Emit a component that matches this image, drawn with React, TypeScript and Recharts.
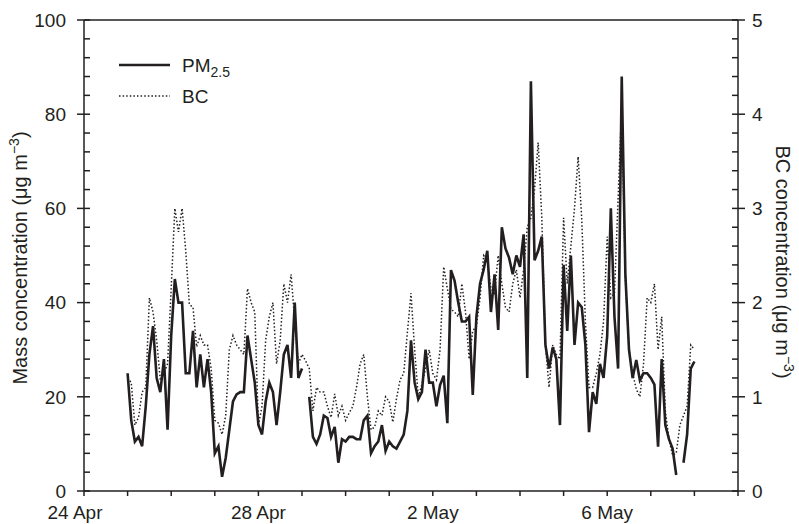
import React from 'react';
import { ComposedChart, Line, XAxis, YAxis, ReferenceLine } from 'recharts';

// Time axis: days after 24 Apr 00:00; observations every 2 hours starting 25 Apr 00:00
const FIRST_DAY = 1;
const STEP_HOURS = 2;

// PM2.5 mass concentration (μg m-3), 2-hourly, one array per day
const pmApr25 = [25, 15, 10.5, 11.5, 9.5, 18, 29, 35, 24, 21, 28, 13];
const pmApr26 = [33, 45, 40, 40, 25, 25, 34, 22, 29, 22, 28, 21];
const pmApr27 = [8, 9.5, 3, 7, 13, 19, 20.5, 21, 21, 33, 28, 23];
const pmApr28 = [14, 12, 19, 23, 21, 14, 21, 29, 31, 24, 40, 24];
const pmApr29 = [26, null, 20, 11.5, 10, 12, 16, 15.5, 11.5, 13.6, 6, 11];
const pmApr30 = [10.5, 11.5, 11.5, 11, 11, 15, 16, 8, 9.5, 10.5, 14, 8.5];
const pmMay01 = [10.5, 9.5, 9, 10.5, 12, 17, 32, 23, 19.5, 21, 30, 23];
const pmMay02 = [23, 18, 22.5, 24.5, 14.4, 46.9, 44.6, 40, 36, 36, 37, 20.4];
const pmMay03 = [37, 44, 47, 51, 38, 46, 34.2, 56, 51.5, 49.5, 46, 50];
const pmMay04 = [47.6, 54.5, 24, 87, 49, 51, 54, 31, 26, 30.5, 28, 14];
const pmMay05 = [48, 34, 50, 31, 40, 39, 31, 12.5, 21, 18.5, 27, 24];
const pmMay06 = [33, 60, 37, 26, 88, 46, 30, 24, 27.8, 23.5, 25, 25];
const pmMay07 = [24, 22.6, 9.4, 28, 14, 11, 9, 3.4, null, 6, 12, 26];
const pmMay08 = [27.5];

// BC concentration (μg m-3), 2-hourly, one array per day
const bcApr25 = [1.2, 1.15, 0.7, 0.78, 1.05, 1.1, 2.05, 1.9, 1.6, 1.18, 1.25, 1.35];
const bcApr26 = [2.15, 3.0, 2.75, 3.0, 2.55, 1.98, 1.95, 1.53, 1.65, 1.55, 1.55, 1.3];
const bcApr27 = [0.75, 0.72, 0.6, 0.8, 1.5, 1.65, 1.55, 1.5, 1.45, 2.15, 2.0, 1.9];
const bcApr28 = [0.7, 0.9, 1.6, 1.85, 2.0, 1.35, 1.6, 2.2, 2.0, 2.3, 1.8, 1.35];
const bcApr29 = [1.45, 1.38, 1.3, 0.85, 1.1, 1.05, 1.05, 0.9, 0.78, 1.03, 0.8, 0.9];
const bcApr30 = [0.75, 0.83, 0.9, 1.1, 1.35, 1.45, 1.0, 0.65, 0.68, 0.85, 0.8, 1.0];
const bcMay01 = [0.95, 0.73, 0.98, 1.18, 1.25, 1.68, 2.1, 1.5, 1.0, 1.13, 1.3, 1.5];
const bcMay02 = [1.25, 1.18, 1.5, 2.38, 2.15, 1.93, 1.9, 1.85, 2.2, 1.9, 1.4, 1.7];
const bcMay03 = [1.75, 2.05, 2.5, 2.45, 2.15, 2.1, 2.5, 2.2, 1.95, 1.9, 2.2, 2.35];
const bcMay04 = [2.05, 2.35, 2.8, 2.9, 3.2, 3.7, 2.9, 1.55, 1.1, 1.55, 1.45, 1.4];
const bcMay05 = [2.9, 2.2, 2.6, 3.0, 3.55, 2.88, 1.8, 1.1, 1.1, 1.25, 1.45, 1.8];
const bcMay06 = [2.7, 2.05, 2.1, 3.1, 4.1, 2.25, 1.5, 1.25, 1.08, 1.0, 1.35, 2.05];
const bcMay07 = [2.0, 2.2, 1.5, 1.85, 0.85, 0.55, 0.38, 0.4, 0.7, 0.8, 0.9, 1.55];
const bcMay08 = [1.5];

// Axis ticks and labels
const xTicks = [0, 1, 2, 3, 4, 5, 6, 7, 8, 9, 10, 11, 12, 13, 14, 15];
const xTickLabels = ['24 Apr', '', '', '', '28 Apr', '', '', '', '2 May', '', '', '', '6 May', '', '', ''];
const leftTicks = [0, 4, 8, 12, 16, 20, 24, 28, 32, 36, 40, 44, 48, 52, 56, 60, 64, 68, 72, 76, 80, 84, 88, 92, 96, 100];
const rightTicks = [0, 0.2, 0.4, 0.6, 0.8, 1, 1.2, 1.4, 1.6, 1.8, 2, 2.2, 2.4, 2.6, 2.8, 3, 3.2, 3.4, 3.6, 3.8, 4, 4.2, 4.4, 4.6, 4.8, 5];

const pmSeries = [
  ...pmApr25, ...pmApr26, ...pmApr27, ...pmApr28, ...pmApr29, ...pmApr30, ...pmMay01,
  ...pmMay02, ...pmMay03, ...pmMay04, ...pmMay05, ...pmMay06, ...pmMay07, ...pmMay08,
];
const bcSeries = [
  ...bcApr25, ...bcApr26, ...bcApr27, ...bcApr28, ...bcApr29, ...bcApr30, ...bcMay01,
  ...bcMay02, ...bcMay03, ...bcMay04, ...bcMay05, ...bcMay06, ...bcMay07, ...bcMay08,
];

const data = pmSeries.map((pm, i) => ({
  t: FIRST_DAY + (i * STEP_HOURS) / 24,
  pm,
  bc: bcSeries[i],
}));

const INK = '#231f20';
const FONT = '"Liberation Sans", Arial, Helvetica, sans-serif';
const FS = 19;
const TITLE_FS = 20;
const DOTS = '1.5 2.1';

const XTick = (props: any) => {
  const { x, y, payload } = props;
  const idx = Math.round(payload.value);
  const label = xTickLabels[idx];
  return (
    <g>
      <line x1={x} x2={x} y1={y} y2={y + 5} stroke={INK} strokeWidth={1.5} />
      {label ? (
        <text
          x={x}
          y={y + 15}
          dx={idx === 0 ? -9 : 0}
          dy="0.71em"
          textAnchor="middle"
          fontSize={FS}
          fontFamily={FONT}
          fill={INK}
        >
          {label}
        </text>
      ) : null}
    </g>
  );
};

const LeftTick = (props: any) => {
  const { x, y, payload } = props;
  const v = payload.value;
  const major = Math.abs(v % 20) < 1e-6;
  return (
    <g>
      <line x1={major ? x - 7 : x} x2={x + 6} y1={y} y2={y} stroke={INK} strokeWidth={1.5} />
      {major ? (
        <text x={x - 18} y={y} dy="0.36em" textAnchor="end" fontSize={FS} fontFamily={FONT} fill={INK}>
          {v}
        </text>
      ) : null}
    </g>
  );
};

const RightTick = (props: any) => {
  const { x, y, payload } = props;
  const v = payload.value;
  const major = Math.abs(v - Math.round(v)) < 1e-6;
  return (
    <g>
      <line x1={x - 6} x2={major ? x + 7 : x} y1={y} y2={y} stroke={INK} strokeWidth={1.5} />
      {major ? (
        <text x={x + 14} y={y} dy="0.36em" textAnchor="start" fontSize={FS} fontFamily={FONT} fill={INK}>
          {v}
        </text>
      ) : null}
    </g>
  );
};

export default function App() {
  return (
    <div style={{ position: 'absolute', left: 0, top: 0, width: 799, height: 524, background: '#fff' }}>
      <ComposedChart
        width={799}
        height={524}
        data={data}
        margin={{ top: 20, right: 0, bottom: 0, left: 0 }}
      >
        <XAxis
          dataKey="t"
          type="number"
          domain={[0, 15]}
          ticks={xTicks}
          interval={0}
          allowDataOverflow
          height={33}
          tickSize={0}
          tickMargin={0}
          tickLine={false}
          tick={XTick}
          axisLine={{ stroke: INK, strokeWidth: 1.5 }}
        />
        <YAxis
          yAxisId="left"
          orientation="left"
          domain={[0, 100]}
          ticks={leftTicks}
          interval={0}
          width={84}
          tickSize={0}
          tickMargin={0}
          tickLine={false}
          tick={LeftTick}
          axisLine={{ stroke: INK, strokeWidth: 1.5 }}
        />
        <YAxis
          yAxisId="right"
          orientation="right"
          domain={[0, 5]}
          ticks={rightTicks}
          interval={0}
          width={61}
          tickSize={0}
          tickMargin={0}
          tickLine={false}
          tick={RightTick}
          axisLine={{ stroke: INK, strokeWidth: 1.5 }}
        />
        <ReferenceLine yAxisId="left" y={100} stroke={INK} strokeWidth={1.5} ifOverflow="visible" />
        <Line
          yAxisId="right"
          dataKey="bc"
          type="linear"
          stroke={INK}
          strokeWidth={1.5}
          strokeDasharray={DOTS}
          dot={false}
          activeDot={false}
          isAnimationActive={false}
        />
        <Line
          yAxisId="left"
          dataKey="pm"
          type="linear"
          stroke={INK}
          strokeWidth={2.6}
          dot={false}
          activeDot={false}
          connectNulls={false}
          isAnimationActive={false}
        />
      </ComposedChart>
      <svg
        width={799}
        height={524}
        style={{ position: 'absolute', left: 0, top: 0, pointerEvents: 'none' }}
      >
        <text
          transform="translate(27,258) rotate(-90)"
          textAnchor="middle"
          fontSize={TITLE_FS}
          fontFamily={FONT}
          fill={INK}
        >
          Mass concentration (μg m<tspan dy={-8} fontSize={14}>−3</tspan>
          <tspan dy={8} fontSize={TITLE_FS}>)</tspan>
        </text>
        <text
          transform="translate(776,262) rotate(90)"
          textAnchor="middle"
          fontSize={TITLE_FS}
          fontFamily={FONT}
          fill={INK}
        >
          BC concentration (μg m<tspan dy={-8} fontSize={14}>−3</tspan>
          <tspan dy={8} fontSize={TITLE_FS}>)</tspan>
        </text>
        <line x1={119} x2={170} y1={65} y2={65} stroke={INK} strokeWidth={2.6} />
        <text x={182} y={72} fontSize={FS} fontFamily={FONT} fill={INK}>
          PM<tspan dy={5} fontSize={14}>2.5</tspan>
        </text>
        <line x1={119} x2={170} y1={96} y2={96} stroke={INK} strokeWidth={1.5} strokeDasharray={DOTS} />
        <text x={182} y={103} fontSize={FS} fontFamily={FONT} fill={INK}>
          BC
        </text>
      </svg>
    </div>
  );
}
